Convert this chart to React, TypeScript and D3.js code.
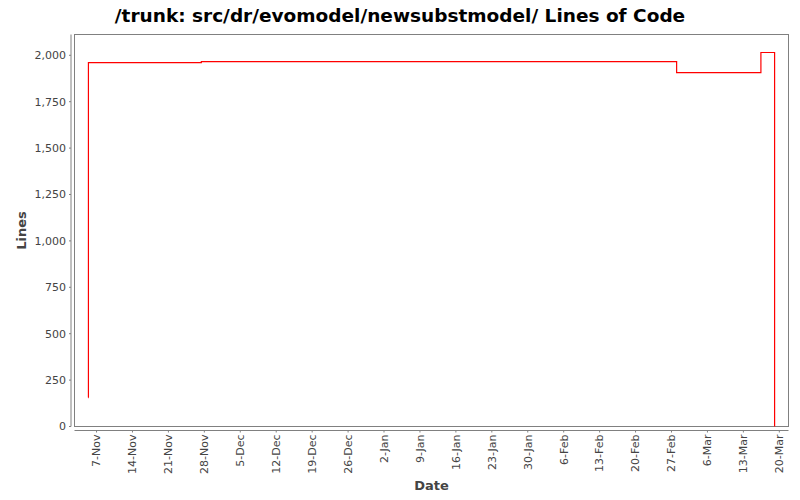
import React from "react";
import * as d3 from "d3";

const titleText = "/trunk: src/dr/evomodel/newsubstmodel/ Lines of Code";
const xLabel = "Date";
const yLabel = "Lines";

// step points (date, lines)
const pointDates: string[] = [
  "2009-11-05T10:00",
  "2009-11-05T10:05",
  "2009-11-27T10:00",
  "2010-02-28T00:00",
  "2010-03-16T10:00",
  "2010-03-19T02:00",
];
const pointValues: number[] = [156, 1961, 1966, 1907, 2015, 0];

const xDomain: string[] = ["2009-11-02T17:00", "2010-03-21T19:00"];
const yDomain: number[] = [0, 2112];
const yTickValues: number[] = [0, 250, 500, 750, 1000, 1250, 1500, 1750, 2000];

const W = 800;
const H = 500;
const plot = { left: 74.5, right: 788.5, top: 34.5, bottom: 426.5 };
const FONT = "DejaVu Sans, sans-serif";

export default function App() {
  const parse = (s: string) => new Date(s);
  const x = d3
    .scaleTime()
    .domain([parse(xDomain[0]), parse(xDomain[1])])
    .range([plot.left, plot.right]);
  const y = d3.scaleLinear().domain(yDomain).range([plot.bottom, plot.top]);

  const data = pointDates.map((d, i) => ({ date: parse(d), value: pointValues[i] }));
  const line = d3
    .line<{ date: Date; value: number }>()
    .x((d) => x(d.date))
    .y((d) => y(d.value))
    .curve(d3.curveStepAfter);

  const xTicks = d3.timeSaturday.range(new Date("2009-11-07T00:00"), new Date("2010-03-21T00:00"));
  const fmt = d3.timeFormat("%-d-%b");
  const yFmt = d3.format(",");

  const yAxisX = 71;
  const xAxisY = 430.5;

  return (
    <svg width={W} height={H} style={{ display: "block", position: "absolute", left: 0, top: 0 }}>
      <rect x={0} y={0} width={W} height={H} fill="#ffffff" />
      <text
        x={400}
        y={22}
        textAnchor="middle"
        fontFamily={FONT}
        fontWeight="bold"
        fontSize={18.5}
        fill="#000"
      >
        {titleText}
      </text>
      <rect
        x={plot.left}
        y={plot.top}
        width={plot.right - plot.left}
        height={plot.bottom - plot.top}
        fill="#ffffff"
        stroke="#808080"
        strokeWidth={1}
      />
      {/* y axis */}
      <line x1={yAxisX} x2={yAxisX} y1={plot.top} y2={plot.bottom} stroke="#808080" />
      {yTickValues.map((v) => (
        <g key={v}>
          <line x1={yAxisX - 2} x2={yAxisX} y1={y(v)} y2={y(v)} stroke="#808080" />
          <text
            x={yAxisX - 5}
            y={y(v)}
            dy="0.35em"
            textAnchor="end"
            fontFamily={FONT}
            fontSize={11}
            fill="#444444"
          >
            {yFmt(v)}
          </text>
        </g>
      ))}
      {/* x axis */}
      <line x1={plot.left} x2={plot.right} y1={xAxisY} y2={xAxisY} stroke="#808080" />
      {xTicks.map((t) => (
        <g key={t.getTime()}>
          <line x1={x(t)} x2={x(t)} y1={xAxisY} y2={xAxisY + 2} stroke="#808080" />
          <text
            transform={`translate(${x(t)},${xAxisY + 4}) rotate(-90)`}
            dy="0.35em"
            textAnchor="end"
            fontFamily={FONT}
            fontSize={11}
            fill="#444444"
          >
            {fmt(t)}
          </text>
        </g>
      ))}
      <path d={line(data) || ""} fill="none" stroke="#ff0000" strokeWidth={1.2} />
      <text
        x={(plot.left + plot.right) / 2}
        y={490}
        textAnchor="middle"
        fontFamily={FONT}
        fontWeight="bold"
        fontSize={13}
        fill="#444444"
      >
        {xLabel}
      </text>
      <text
        transform={`translate(26,${(plot.top + plot.bottom) / 2}) rotate(-90)`}
        textAnchor="middle"
        fontFamily={FONT}
        fontWeight="bold"
        fontSize={13}
        fill="#444444"
      >
        {yLabel}
      </text>
    </svg>
  );
}
